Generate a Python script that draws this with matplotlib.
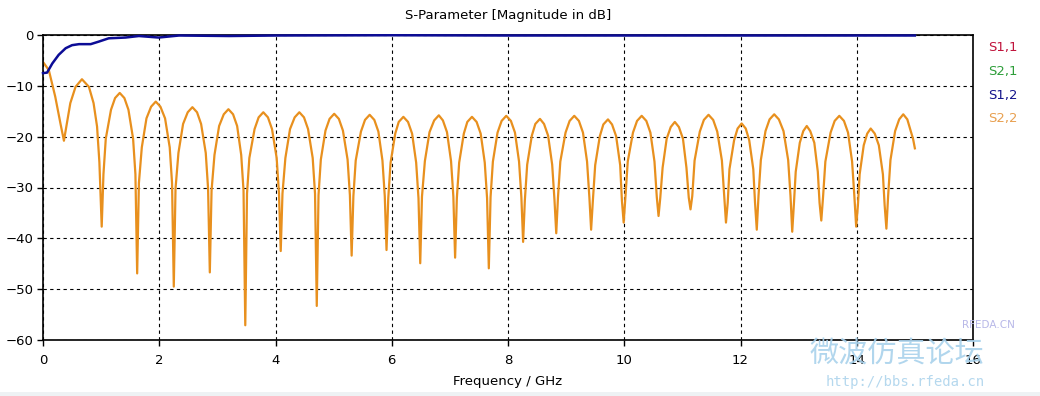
import matplotlib.pyplot as plt
from matplotlib.patches import Rectangle

# S2,2, one lobe per line (GHz, dB)
freq_s22 = [0.00, 0.10, 0.21, 0.30, 0.36,
            0.41, 0.47, 0.56, 0.67, 0.79, 0.87, 0.93, 0.97, 1.01,
            1.04, 1.08, 1.17, 1.24, 1.32, 1.40, 1.47, 1.55, 1.59, 1.62,
            1.65, 1.70, 1.78, 1.86, 1.94, 2.02, 2.10, 2.18, 2.22, 2.25,
            2.28, 2.33, 2.41, 2.49, 2.57, 2.65, 2.72, 2.80, 2.84, 2.87,
            2.90, 2.95, 3.03, 3.11, 3.19, 3.27, 3.34, 3.41, 3.45, 3.48,
            3.51, 3.55, 3.64, 3.71, 3.79, 3.87, 3.94, 4.02, 4.06, 4.09,
            4.12, 4.17, 4.25, 4.33, 4.41, 4.49, 4.56, 4.64, 4.68, 4.71,
            4.74, 4.78, 4.86, 4.93, 5.01, 5.09, 5.16, 5.24, 5.28, 5.31,
            5.34, 5.38, 5.47, 5.54, 5.62, 5.70, 5.77, 5.84, 5.88, 5.91,
            5.94, 5.98, 6.06, 6.12, 6.20, 6.28, 6.35, 6.42, 6.46, 6.49,
            6.52, 6.57, 6.65, 6.73, 6.81, 6.88, 6.95, 7.02, 7.06, 7.09,
            7.12, 7.16, 7.24, 7.30, 7.38, 7.46, 7.53, 7.60, 7.64, 7.67,
            7.70, 7.74, 7.82, 7.89, 7.97, 8.05, 8.12, 8.19, 8.23, 8.26,
            8.29, 8.33, 8.41, 8.47, 8.55, 8.62, 8.69, 8.76, 8.80, 8.83,
            8.86, 8.90, 8.99, 9.06, 9.14, 9.22, 9.29, 9.36, 9.40, 9.43,
            9.46, 9.50, 9.58, 9.64, 9.72, 9.79, 9.86, 9.93, 9.96, 9.99,
            10.02, 10.06, 10.15, 10.22, 10.30, 10.38, 10.45, 10.52, 10.56, 10.59,
            10.62, 10.66, 10.73, 10.80, 10.87, 10.94, 11.01, 11.07, 11.11, 11.14,
            11.17, 11.21, 11.30, 11.37, 11.45, 11.53, 11.60, 11.68, 11.72, 11.75,
            11.78, 11.81, 11.89, 11.95, 12.02, 12.09, 12.15, 12.22, 12.25, 12.28,
            12.31, 12.35, 12.43, 12.50, 12.58, 12.66, 12.74, 12.82, 12.86, 12.89,
            12.92, 12.95, 13.02, 13.08, 13.14, 13.20, 13.27, 13.33, 13.36, 13.39,
            13.42, 13.46, 13.55, 13.62, 13.70, 13.78, 13.85, 13.92, 13.96, 13.99,
            14.02, 14.05, 14.12, 14.18, 14.24, 14.31, 14.38, 14.45, 14.48, 14.51,
            14.54, 14.58, 14.66, 14.73, 14.80, 14.87, 14.93, 14.97, 15.00]
mag_s22 = [-5.3, -6.9, -12.1, -17.4, -20.8,
           -17.4, -13.4, -10.2, -8.7, -10.2, -13.4, -18.0, -25.0, -37.7,
           -27.4, -20.4, -14.7, -12.4, -11.4, -12.4, -14.7, -20.4, -27.4, -46.9,
           -29.1, -22.1, -16.4, -14.1, -13.1, -14.1, -16.4, -22.1, -29.1, -49.5,
           -30.2, -23.2, -17.5, -15.2, -14.2, -15.2, -17.5, -23.2, -30.2, -46.7,
           -30.6, -23.6, -17.9, -15.6, -14.6, -15.6, -17.9, -23.6, -30.6, -57.1,
           -31.2, -24.2, -18.5, -16.2, -15.2, -16.2, -18.5, -24.2, -31.2, -42.5,
           -31.2, -24.2, -18.5, -16.2, -15.2, -16.2, -18.5, -24.2, -31.2, -53.3,
           -31.5, -24.5, -18.8, -16.5, -15.5, -16.5, -18.8, -24.5, -31.5, -43.4,
           -31.7, -24.7, -19.0, -16.7, -15.7, -16.7, -19.0, -24.7, -31.7, -42.3,
           -32.1, -25.1, -19.4, -17.1, -16.1, -17.1, -19.4, -25.1, -32.1, -44.9,
           -31.8, -24.8, -19.1, -16.8, -15.8, -16.8, -19.1, -24.8, -31.8, -43.8,
           -32.1, -25.1, -19.4, -17.1, -16.1, -17.1, -19.4, -25.1, -32.1, -45.9,
           -31.9, -24.9, -19.2, -16.9, -15.9, -16.9, -19.2, -24.9, -31.9, -40.7,
           -32.5, -25.5, -19.8, -17.5, -16.5, -17.5, -19.8, -25.5, -32.5, -39.0,
           -31.9, -24.9, -19.2, -16.9, -15.9, -16.9, -19.2, -24.9, -31.9, -38.3,
           -32.6, -25.6, -19.9, -17.6, -16.6, -17.6, -19.9, -25.6, -32.6, -36.9,
           -31.9, -24.9, -19.2, -16.9, -15.9, -16.9, -19.2, -24.9, -31.9, -35.6,
           -32.0, -26.1, -20.4, -18.1, -17.1, -18.1, -20.4, -26.1, -32.0, -34.3,
           -31.7, -24.7, -19.0, -16.7, -15.7, -16.7, -19.0, -24.7, -31.7, -36.9,
           -33.0, -26.4, -20.7, -18.4, -17.4, -18.4, -20.7, -26.4, -33.0, -38.3,
           -31.6, -24.6, -18.9, -16.6, -15.6, -16.6, -18.9, -24.6, -31.6, -38.7,
           -33.0, -26.9, -21.2, -18.9, -17.9, -18.9, -21.2, -26.9, -33.0, -36.5,
           -31.9, -24.9, -19.2, -16.9, -15.9, -16.9, -19.2, -24.9, -31.9, -37.7,
           -33.5, -27.4, -21.7, -19.4, -18.4, -19.4, -21.7, -27.4, -33.5, -38.1,
           -31.6, -24.6, -18.9, -16.6, -15.6, -16.6, -18.9, -20.5, -22.3]

# S1,2
freq_s12 = [0.00, 0.07, 0.16, 0.27, 0.39, 0.50, 0.62, 0.82, 0.96, 1.13, 1.42,
            1.65, 1.99, 2.34, 3.2, 4.0, 6.0, 8.0, 10.0, 12.0, 14.0, 15.0]
mag_s12 = [-7.5, -7.4, -5.6, -3.9, -2.6, -2.0, -1.8, -1.8, -1.3, -0.65, -0.5,
           -0.2, -0.5, -0.1, -0.2, -0.1, -0.05, -0.1, -0.1, -0.1, -0.1, -0.1]

legend_labels = ["S1,1", "S2,1", "S1,2", "S2,2"]
legend_colors = ["#c0143c", "#2e9e3a", "#14148c", "#e8a050"]

x_ticks = [0, 2, 4, 6, 8, 10, 12, 14, 16]
y_ticks = [0, -10, -20, -30, -40, -50, -60]

fig = plt.figure(figsize=(10.4, 3.96), dpi=100)
ax = fig.add_axes([43 / 1040, 1 - 340 / 396, 930 / 1040, 305 / 396])

ax.plot(freq_s22, mag_s22, color="#e8901e", lw=1.6)
ax.plot(freq_s12, mag_s12, color="#0c0c96", lw=1.8, clip_on=False, zorder=5)

ax.set_xlim(0, 16)
ax.set_ylim(-60, 0)
ax.set_xticks(x_ticks)
ax.set_yticks(y_ticks)
ax.tick_params(direction="out", length=4, width=1, labelsize=9.5)
ax.tick_params(axis="x", pad=6)
ax.tick_params(axis="y", pad=3)
ax.grid(True, color="black", linestyle=(0, (3, 3)), linewidth=0.8)
for s in ax.spines.values():
    s.set_linewidth(1.2)

fig.text(508 / 1040, 1 - 15 / 396, "S-Parameter [Magnitude in dB]",
         ha="center", va="center", fontsize=9.5)
fig.text(508 / 1040, 1 - 382 / 396, "Frequency / GHz",
         ha="center", va="center", fontsize=9.5)

for i, lab in enumerate(legend_labels):
    fig.text(988 / 1040, 1 - (48 + 23.5 * i) / 396, lab, color=legend_colors[i],
             ha="left", va="center", fontsize=9.5)

# watermark in the corner
fig.text(897 / 1040, 1 - 355 / 396, "微波仿真论坛", color="#a9d2ec",
         family=["Noto Sans CJK SC", "DejaVu Sans"], fontsize=21,
         ha="center", va="center", alpha=0.9)
fig.text(905 / 1040, 1 - 382 / 396, "http://bbs.rfeda.cn", color="#b5d8ee",
         family="DejaVu Sans Mono", fontsize=10, ha="center", va="center")
fig.text(988 / 1040, 1 - 325 / 396, "RFEDA.CN", color="#b8b8e8",
         fontsize=7.5, ha="center", va="center")

# faint strip along the bottom edge
fig.patches.append(Rectangle((0, 0), 1, 4 / 396, transform=fig.transFigure,
                             facecolor="#eef2f4", edgecolor="none"))

fig.savefig("out.png", dpi=100)
